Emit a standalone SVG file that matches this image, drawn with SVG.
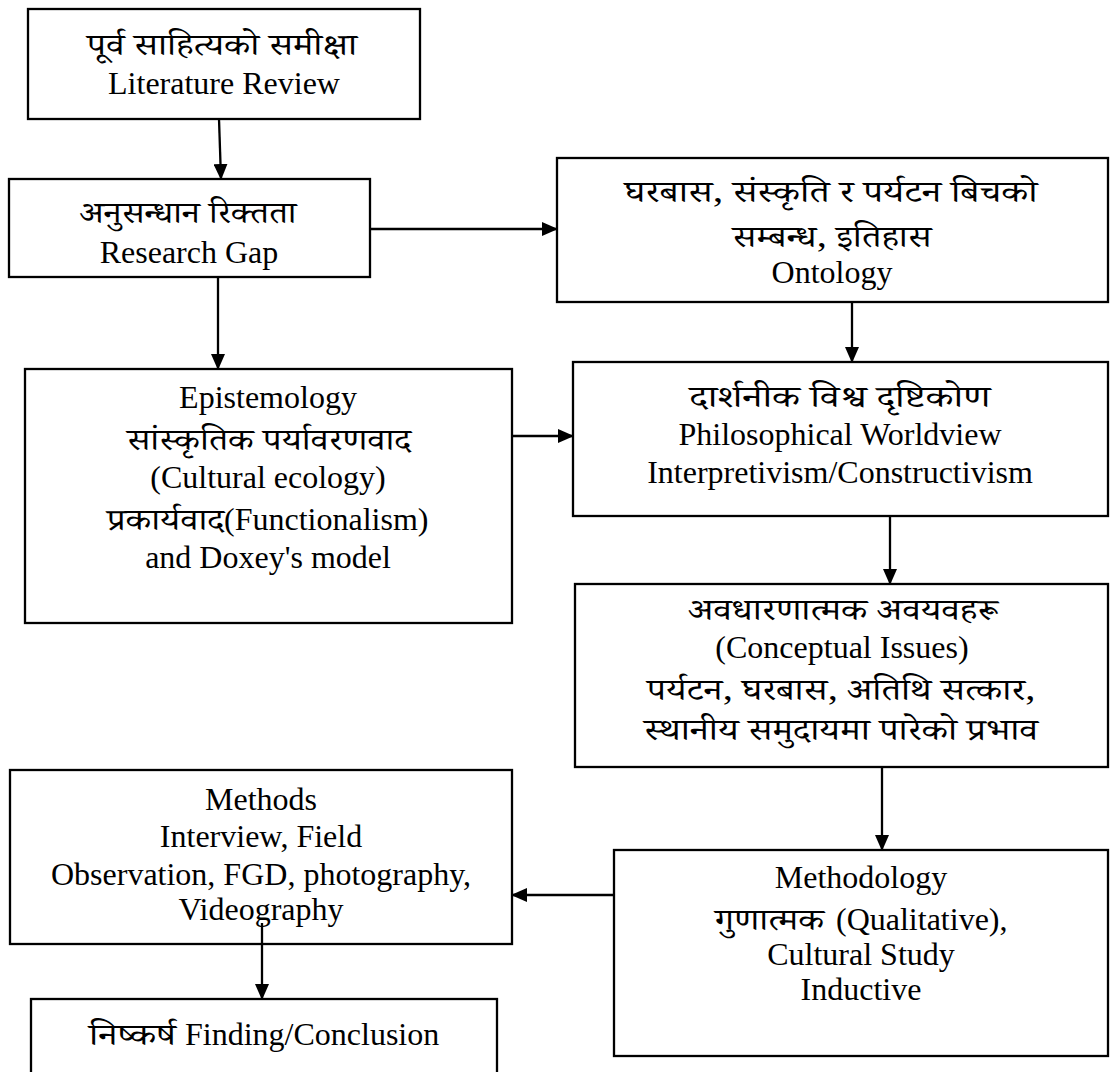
<svg xmlns="http://www.w3.org/2000/svg" width="1112" height="1072" viewBox="0 0 1112 1072">
<defs>
<marker id="ah" markerWidth="16" markerHeight="14" refX="15" refY="7" orient="auto" markerUnits="userSpaceOnUse">
<path d="M0,0 L16,7 L0,14 Z" fill="#000"/>
</marker>
<style>
.box{fill:#fff;stroke:#000;stroke-width:2.3}
.t{font-family:"Liberation Serif","Times New Roman",serif;font-size:32px;fill:#000;text-anchor:middle}
.d{font-family:"Noto Serif Devanagari","Noto Sans Devanagari","Lohit Devanagari","Liberation Serif",serif;font-size:30px;fill:#000;text-anchor:middle}
.s{text-anchor:start}
.c{stroke:#000;stroke-width:2.3;fill:none;marker-end:url(#ah)}
</style>
</defs>
<rect width="1112" height="1072" fill="#fff"/>
<g id="connectors">
<line class="c" x1="219" y1="119" x2="221" y2="179"/>
<line class="c" x1="370" y1="229" x2="557" y2="229"/>
<line class="c" x1="218" y1="277" x2="218" y2="369"/>
<line class="c" x1="852" y1="302" x2="852" y2="362"/>
<line class="c" x1="512" y1="436" x2="573" y2="436"/>
<line class="c" x1="890" y1="516" x2="890" y2="584"/>
<line class="c" x1="882" y1="767" x2="882" y2="850"/>
<line class="c" x1="614" y1="895" x2="512" y2="895"/>
</g>
<g id="n1"><rect class="box" x="28" y="9" width="392" height="110"/>
<text class="d" x="222" y="55" textLength="270" lengthAdjust="spacingAndGlyphs">पूर्व साहित्यको समीक्षा</text>
<text class="t" x="224" y="94">Literature Review</text></g>
<g id="n2"><rect class="box" x="9" y="179" width="361" height="98"/>
<text class="d" x="188" y="223" textLength="217" lengthAdjust="spacingAndGlyphs">अनुसन्धान रिक्तता</text>
<text class="t" x="189" y="263">Research Gap</text></g>
<g id="n3"><rect class="box" x="557" y="158" width="551" height="144"/>
<text class="d" x="831" y="202" textLength="413" lengthAdjust="spacingAndGlyphs">घरबास, संस्कृति र पर्यटन बिचको</text>
<text class="d" x="832" y="247" textLength="199" lengthAdjust="spacingAndGlyphs">सम्बन्ध, इतिहास</text>
<text class="t" x="832" y="283">Ontology</text></g>
<g id="n4"><rect class="box" x="573" y="362" width="535" height="154"/>
<text class="d" x="840" y="407" textLength="301" lengthAdjust="spacingAndGlyphs">दार्शनीक विश्व दृष्टिकोण</text>
<text class="t" x="840" y="445">Philosophical Worldview</text>
<text class="t" x="840" y="483">Interpretivism/Constructivism</text></g>
<g id="n5"><rect class="box" x="25" y="369" width="487" height="254"/>
<text class="t" x="268" y="408">Epistemology</text>
<text class="d" x="269" y="450" textLength="284" lengthAdjust="spacingAndGlyphs">सांस्कृतिक पर्यावरणवाद</text>
<text class="t" x="268" y="488">(Cultural ecology)</text>
<text class="d s" x="107" y="530" textLength="117" lengthAdjust="spacingAndGlyphs">प्रकार्यवाद</text>
<text class="t s" x="224" y="530">(Functionalism)</text>
<text class="t" x="268" y="568">and Doxey's model</text></g>
<g id="n6"><rect class="box" x="575" y="584" width="533" height="183"/>
<text class="d" x="843" y="620" textLength="310" lengthAdjust="spacingAndGlyphs">अवधारणात्मक अवयवहरू</text>
<text class="t" x="842" y="658">(Conceptual Issues)</text>
<text class="d" x="841" y="700" textLength="388" lengthAdjust="spacingAndGlyphs">पर्यटन, घरबास, अतिथि सत्कार,</text>
<text class="d" x="841" y="740" textLength="394" lengthAdjust="spacingAndGlyphs">स्थानीय समुदायमा पारेको प्रभाव</text></g>
<g id="n7"><rect class="box" x="614" y="850" width="494" height="206"/>
<text class="t" x="861" y="888">Methodology</text>
<text class="d s" x="715" y="930" textLength="109" lengthAdjust="spacingAndGlyphs">गुणात्मक</text>
<text class="t s" x="836" y="930">(Qualitative),</text>
<text class="t" x="861" y="965">Cultural Study</text>
<text class="t" x="861" y="1000">Inductive</text></g>
<g id="n8"><rect class="box" x="10" y="770" width="502" height="174"/>
<text class="t" x="261" y="810">Methods</text>
<text class="t" x="261" y="847">Interview, Field</text>
<text class="t" x="261" y="885">Observation, FGD, photography,</text>
<text class="t" x="261" y="920">Videography</text></g>
<g id="connectors2"><line class="c" x1="262" y1="923" x2="262" y2="999"/></g>
<g id="n9"><rect class="box" x="31" y="999" width="466" height="100"/>
<text class="d s" x="89" y="1045" textLength="87" lengthAdjust="spacingAndGlyphs">निष्कर्ष</text>
<text class="t s" x="185" y="1045">Finding/Conclusion</text></g>
</svg>
